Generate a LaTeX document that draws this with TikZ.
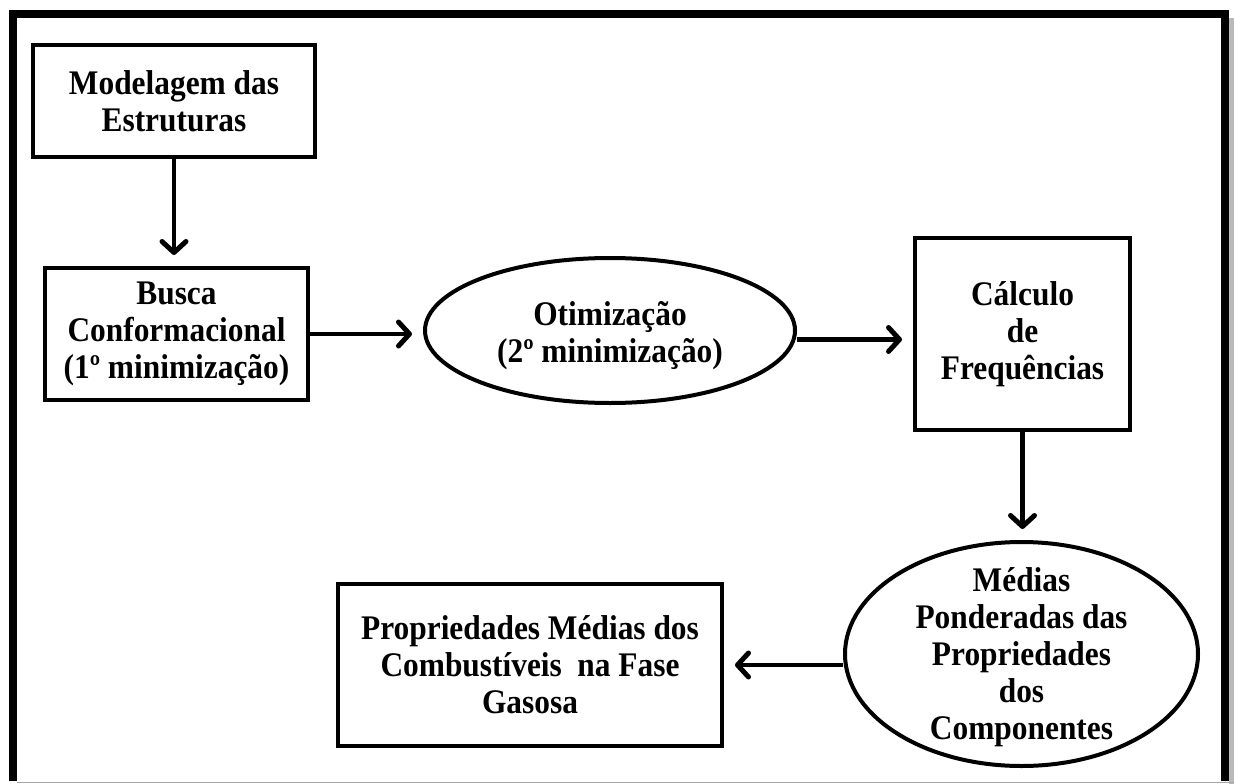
\documentclass[tikz,border=0pt]{standalone}
\usepackage{fontspec}
\setmainfont{Liberation Serif}[FakeStretch=0.91]
\usetikzlibrary{arrows.meta,shapes.geometric}
\begin{document}
\begin{tikzpicture}[x=1pt,y=-1pt,
  box/.style={draw,line width=4pt,inner sep=0pt,align=center,font=\fontsize{34.5}{37}\selectfont\bfseries},
  ell/.style={draw,ellipse,line width=4pt,inner sep=0pt},
  txt/.style={align=center,inner sep=0pt,font=\fontsize{34.5}{37}\selectfont\bfseries},
  arr/.style={line width=4.5pt,-{Straight Barb[length=11pt,width=24pt,line width=5pt,round]},shorten >=11pt}]
\useasboundingbox (0,0) rectangle (1234,784);
% frame with shadow
\fill[gray!55] (1229,18) rectangle (1234,784);
\draw[gray!70,line width=1.5pt] (17,782.5) -- (1234,782.5);
\draw[line width=8pt] (13,781) -- (13,14) -- (1225,14) -- (1225,781);
% nodes
\node[box,minimum width=282pt,minimum height=112pt] (mod) at (174,101) {Modelagem das\\Estruturas};
\node[box,minimum width=263pt,minimum height=132pt] (bus) at (176.5,334) {Busca\\Conformacional\\(1º minimização)};
\node[ell,minimum width=370pt,minimum height=145pt] (otim) at (610,330.5) {};
\node[txt] (otimt) at (610,336) {Otimização\\(2º minimização)};
\node[box,minimum width=215pt,minimum height=192pt] (calc) at (1022.5,334) {Cálculo\\de\\Frequências};
\node[ell,minimum width=353pt,minimum height=224pt] (med) at (1021.5,654) {};
\node[txt] (medt) at (1021.5,657) {Médias\\Ponderadas das\\Propriedades\\dos\\Componentes};
\node[box,minimum width=384pt,minimum height=162pt] (prop) at (530,665) {Propriedades Médias dos\\Combustíveis\hspace{0.45em}na Fase\\Gasosa};
% connectors
\draw[arr] (mod.south) -- (mod.south |- bus.north);
\draw[arr] (bus.east) -- (bus.east -| otim.west);
\draw[arr] ([yshift=-9pt]otim.east) -- ([yshift=-9pt]otim.east -| calc.west);
\draw[arr] (calc.south) -- (calc.south |- med.north);
\draw[arr] (prop.east -| med.west) -- (prop.east);
\end{tikzpicture}
\end{document}
